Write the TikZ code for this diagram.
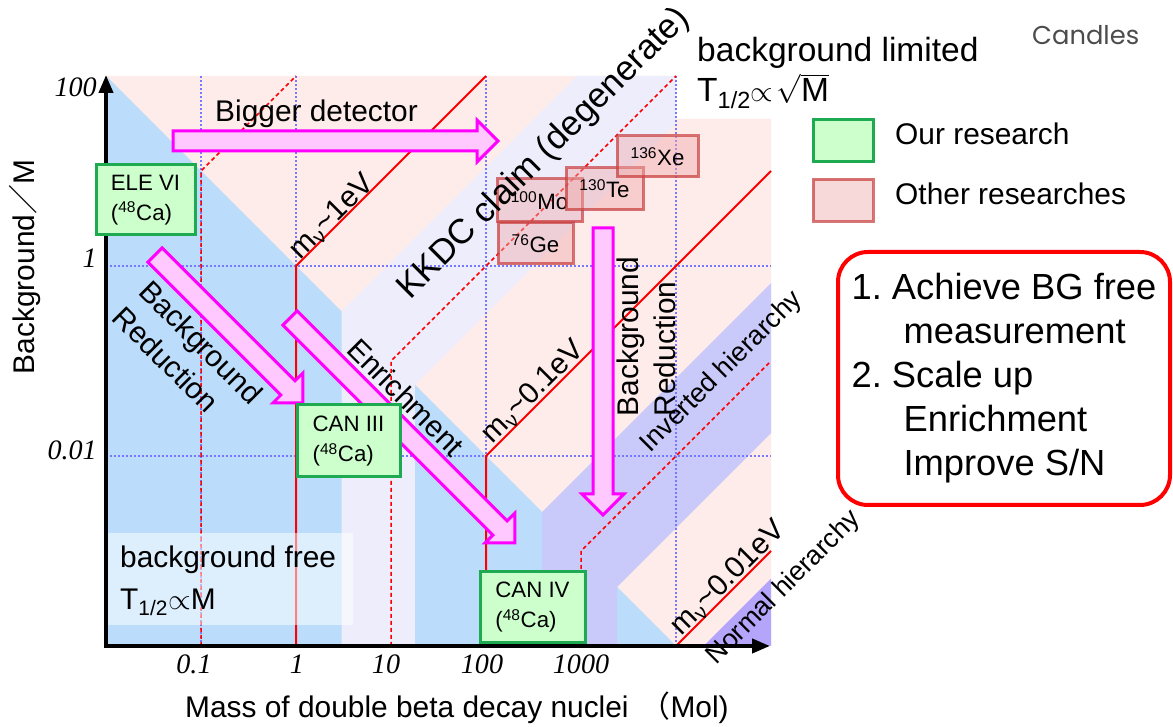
\documentclass[tikz,border=0pt]{standalone}
\usepackage{amsmath}
\usepackage{fontspec}
\setmainfont{Liberation Sans}
\newfontfamily\tickfont{Liberation Serif}
\newfontfamily\cjk{Noto Sans CJK SC}
\newfontfamily\logofont{Poppins}
\usetikzlibrary{arrows.meta}
\frenchspacing

\newdimen\pix \pix=0.03cm
\newcommand{\fsize}[2]{\fontsize{#1}{#2}\selectfont}

\definecolor{bglimit}{RGB}{253,236,234}
\definecolor{bgfree}{RGB}{187,221,251}
\definecolor{kkdcband}{RGB}{237,237,252}
\definecolor{invband}{RGB}{202,202,250}
\definecolor{norband}{RGB}{180,165,250}
\definecolor{ourfill}{RGB}{204,255,204}
\definecolor{ourline}{RGB}{30,170,80}
\definecolor{otherfill}{RGB}{240,170,170}
\definecolor{otherline}{RGB}{200,60,60}
\definecolor{arrowfill}{RGB}{255,200,255}
\definecolor{arrowline}{RGB}{255,0,255}
\definecolor{gridblue}{RGB}{120,120,255}

\tikzset{
  txt/.style={font=\fsize{25.5}{31.6}, inner sep=0pt},
  limtxt/.style={font=\fsize{28.6}{34}, inner sep=0pt},
  kkdctxt/.style={font=\fsize{29.7}{34}, inner sep=0pt},
  hier/.style={font=\fsize{23}{28}, inner sep=0pt},
  tick/.style={font=\tickfont\itshape\fsize{24}{28}, inner sep=0pt},
  ours/.style={draw=ourline, fill=ourfill, line width=3\pix, align=left,
    font=\fsize{19}{25.6}, inner sep=0pt},
  other/.style={draw=otherline, draw opacity=0.7, fill=otherfill,
    fill opacity=0.45, text opacity=1, line width=3\pix,
    font=\fsize{19}{23}, inner sep=0pt},
  goals/.style={draw=red, line width=4\pix, rounded corners=30\pix,
    align=left, font=\fsize{31}{37.6}, inner sep=0pt},
  gridline/.style={gridblue, line width=1.5\pix, dash pattern=on 2\pix off 2\pix},
  mass/.style={red, line width=2\pix},
  massdash/.style={red, line width=1.5\pix, dash pattern=on 4\pix off 3\pix},
  axis/.style={line width=4\pix, {Triangle[length=0.54cm,width=0.42cm]}-{Triangle[length=0.54cm,width=0.42cm]}},
  arrowbody/.style={fill=arrowfill, draw=arrowline, line width=3\pix},
  pics/fatarrow/.style={code={
    \draw[arrowbody] (0,-10) -- (#1-21,-10) -- (#1-21,-21) -- (#1,0)
      -- (#1-21,21) -- (#1-21,10) -- (0,10) -- cycle;
  }}
}

\begin{document}
\begin{tikzpicture}[x=0.03cm, y=0.03cm]
\useasboundingbox (0,0) rectangle (1173,726);

% plot area, one unit = one decade
\begin{scope}[shift={(106,80)}, x=2.85cm, y=2.85cm]
  \fill[bglimit] (0,0) -- (7,0) -- (7,5.55) -- (6,5.55) -- (6,6) -- (0,6) -- cycle;
  \fill[bgfree] (0,0) -- (0,6) -- (6,0) -- cycle;
  \fill[kkdcband] (2.48,0) -- (2.48,3.52) -- (4.96,6) -- (6,6) -- (6,5.5)
    -- (3.25,2.75) -- (3.25,0) -- cycle;
  \fill[invband] (4.59,0) -- (4.59,1.41) -- (7,3.82) -- (7,2.24)
    -- (5.38,0.62) -- (5.38,0) -- cycle;
  \fill[norband] (6.29,0) -- (7,0) -- (7,0.71) -- cycle;

  \foreach \u in {1,2,4,6} \draw[gridline] (\u,0) -- (\u,6);
  \foreach \v in {2,4} \draw[gridline] (0,\v) -- (7,\v);

  \draw[mass] (2,0) -- (2,4) -- (4,6);
  \draw[mass] (4,0) -- (4,2) -- (7,5);
  \draw[mass] (6,0) -- (7,1);
  \draw[massdash] (1,0) -- (1,5) -- (2,6);
  \draw[massdash] (3,0) -- (3,3) -- (6,6);
  \draw[massdash] (5,0) -- (5,1) -- (7,3);
\end{scope}

\fill[white, opacity=0.5] (106,101) rectangle (353,193);

% axes
\coordinate (origin) at (106,80);
\coordinate (ytop) at (106,651);
\coordinate (xend) at (770,80);
\draw[axis] (ytop) -- (origin) -- (xend);

\foreach \lab/\y [count=\i] in {100/629, 1/458, 0.01/266}
  \node[tick, anchor=base east] (ytick\i) at (97,\y) {\lab};
\foreach \lab/\x [count=\i] in {0.1/194, 1/297, 10/386, 100/482, 1000/581}
  \node[tick, anchor=base] (xtick\i) at (\x,53) {\lab};

\node[txt, rotate=90] (ytitle) at (25,459) {Background{\cjk ／}M};
\node[txt, anchor=base west] (xtitle) at (185,8) {Mass of double beta decay nuclei\hspace{12\pix}{\cjk （}Mol)};

% strategy arrows
\pic (bigger) at (173,585) {fatarrow=325};
\pic (bgcut) [rotate=-45] at (155,471) {fatarrow=209};
\pic (enrich) [rotate=-45] at (290,408) {fatarrow=318};
\pic (bgcutv) [rotate=-90] at (603,498) {fatarrow=287};

% experiments
\node[ours, minimum width=99\pix, minimum height=70\pix] (elevi) at (145.5,526) {ELE VI\\(\textsuperscript{48}Ca)};
\node[ours, minimum width=103\pix, minimum height=72\pix] (caniii) at (348.5,285) {CAN III\\(\textsuperscript{48}Ca)};
\node[ours, minimum width=105\pix, minimum height=71\pix] (caniv) at (532.5,119) {CAN IV\\(\textsuperscript{48}Ca)};

\node[other, minimum width=75\pix, minimum height=41\pix] (ge) at (535.5,482.5) {\textsuperscript{76}Ge};
\node[other, minimum width=85\pix, minimum height=43\pix] (mo) at (539.5,525.5) {\textsuperscript{100}Mo};
\node[other, minimum width=77\pix, minimum height=42\pix] (te) at (604.5,537) {\textsuperscript{130}Te};
\node[other, minimum width=81\pix, minimum height=41\pix] (xe) at (657.5,569.5) {\textsuperscript{136}Xe};

% labels
\node[txt, anchor=base west] (biggertxt) at (215,604) {Bigger detector};
\node[txt, rotate=-45, align=left] (bgcuttxt) at (188,371) {Background\\Reduction};
\node[txt, rotate=-45] (enrichtxt) at (406,329) {Enrichment};
\node[txt, rotate=90, align=left] (bgcutvtxt) at (646.5,389.5) {Background\\Reduction};
\node[kkdctxt, rotate=45] (kkdc) at (544,572) {KKDC claim (degenerate)};
\node[hier, rotate=45] (inverted) at (722,354) {Inverted hierarchy};
\node[hier, rotate=45] (normal) at (784,138) {Normal hierarchy};
\node[txt, rotate=45] (mone) at (332,509) {m\textsubscript{ν}\textasciitilde 1eV};
\node[txt, rotate=45] (mtenth) at (533,334) {m\textsubscript{ν}\textasciitilde 0.1eV};
\node[txt, rotate=45] (mhundredth) at (728,148) {m\textsubscript{ν}\textasciitilde 0.01eV};

\node[txt, anchor=base west] (bgfree) at (120,158) {background free};
\node[txt, anchor=base west] (bgfreelaw) at (120,116) {T\textsubscript{1/2}$\propto$M};
\node[limtxt, anchor=base west] (bglim) at (697,664) {background limited};
\node[limtxt, anchor=base west] (bglimlaw) at (697,624) {T\textsubscript{1/2}$\propto\!\sqrt{\text{M}}$};

% legend
\node[ours, minimum width=60\pix, minimum height=42\pix] (keyours) at (843,585) {};
\node[txt, anchor=base west] (keyourstxt) at (895,581) {Our research};
\node[other, minimum width=60\pix, minimum height=42\pix] (keyother) at (843,525.5) {};
\node[txt, anchor=base west] (keyothertxt) at (895,521) {Other researches};

\node[goals, minimum width=332\pix, minimum height=253\pix] (goalbox) at (1004,347.5)
  {1. Achieve BG free\\\hspace*{52\pix}measurement\\2. Scale up\\\hspace*{52\pix}Enrichment\\\hspace*{52\pix}Improve S/N};

\node[anchor=base west, inner sep=0pt, font=\logofont\fsize{22}{26}, text=black!70] (logo) at (1032,681) {Candles};
\end{tikzpicture}
\end{document}
